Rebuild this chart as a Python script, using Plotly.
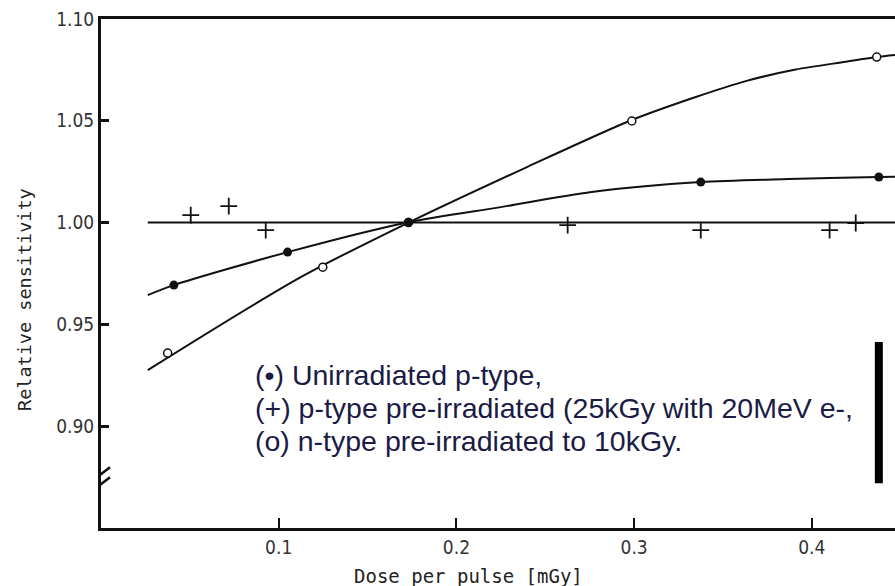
import plotly.graph_objects as go

# Measured points: relative sensitivity against dose per pulse (mGy)
unirr_x = [0.041, 0.105, 0.173, 0.3375, 0.4377]
unirr_y = [0.9693, 0.9855, 1.0002, 1.0199, 1.0224]

p_pre_x = [0.0505, 0.0719, 0.0927, 0.2626, 0.3375, 0.410, 0.4247]
p_pre_y = [1.0037, 1.0081, 0.9963, 0.9988, 0.9963, 0.9963, 0.9998]

n_pre_x = [0.0375, 0.1248, 0.173, 0.2987, 0.4365]
n_pre_y = [0.9359, 0.9781, 1.000, 1.0499, 1.0813]

# Fitted curves drawn through each data set
fit_unirr_x = [0.0263, 0.041, 0.105, 0.173, 0.225, 0.276, 0.3375, 0.387, 0.4377, 0.4468]
fit_unirr_y = [0.9644, 0.9693, 0.9855, 1.0002, 1.0076, 1.0150, 1.0199, 1.0214, 1.0224, 1.0225]

fit_p_pre_x = [0.0263, 0.4468]
fit_p_pre_y = [1.000, 1.000]

fit_n_pre_x = [0.0263, 0.1124, 0.173, 0.2385, 0.2987, 0.3347, 0.3628, 0.3909, 0.4191, 0.4365, 0.4468]
fit_n_pre_y = [0.9275, 0.9732, 1.000, 1.0268, 1.0504, 1.0617, 1.0695, 1.0752, 1.0790, 1.0813, 1.0823]

x_ticks = [0.1, 0.2, 0.3, 0.4]
x_tick_text = ["0.1", "0.2", "0.3", "0.4"]
y_ticks = [0.90, 0.95, 1.00, 1.05, 1.10]
y_tick_text = ["0.90", "0.95", "1.00", "1.05", "1.10"]

key_lines = [
    "(\u2022) Unirradiated p-type,",
    "(+) p-type pre-irradiated (25kGy with 20MeV e-,",
    "(o) n-type pre-irradiated to 10kGy.",
]

TICK_FONT = "DejaVu Sans Condensed, Liberation Sans Narrow, sans-serif"
TITLE_FONT = "DejaVu Sans Mono, Liberation Mono, monospace"
INK = "#111111"

fig = go.Figure()

for fx, fy in [(fit_unirr_x, fit_unirr_y), (fit_p_pre_x, fit_p_pre_y), (fit_n_pre_x, fit_n_pre_y)]:
    fig.add_trace(go.Scatter(
        x=fx, y=fy, mode="lines",
        line=dict(color=INK, width=2, shape="spline", smoothing=0.8),
        hoverinfo="skip", showlegend=False,
    ))

fig.add_trace(go.Scatter(
    x=n_pre_x, y=n_pre_y, mode="markers", name="n-type pre-irradiated",
    marker=dict(symbol="circle", size=8, color="white", line=dict(color=INK, width=1.5)),
    showlegend=False,
))
fig.add_trace(go.Scatter(
    x=p_pre_x, y=p_pre_y, mode="markers", name="p-type pre-irradiated",
    marker=dict(symbol="cross-thin-open", size=12, color=INK, line=dict(color=INK, width=1.8)),
    showlegend=False,
))
fig.add_trace(go.Scatter(
    x=unirr_x, y=unirr_y, mode="markers", name="Unirradiated p-type",
    marker=dict(symbol="circle", size=9, color=INK),
    showlegend=False,
))

L, R, T, B = 101, 0, 19, 58
W, H = 895, 586
pw, ph = W - L - R, H - T - B


def px_to_paper(px, py):
    return (px - L) / pw, (H - B - py) / ph


annotations = []
for i, line in enumerate(key_lines):
    ax_, ay_ = px_to_paper(253, 375 + 33 * i)
    annotations.append(dict(
        x=ax_, y=ay_, xref="paper", yref="paper", xanchor="left", yanchor="middle",
        text=line, showarrow=False,
        font=dict(family="Liberation Sans, Arial, sans-serif", size=28.5, color="#1b1b45"),
    ))

tx, ty = px_to_paper(468, 576)
annotations.append(dict(
    x=tx, y=ty, xref="paper", yref="paper", xanchor="center", yanchor="middle",
    text="Dose per pulse [mGy]", showarrow=False,
    font=dict(family=TITLE_FONT, size=19, color="#222"),
))
yx, yy = px_to_paper(25, 300)
annotations.append(dict(
    x=yx, y=yy, xref="paper", yref="paper", xanchor="center", yanchor="middle",
    text="Relative sensitivity", textangle=-90, showarrow=False,
    font=dict(family=TITLE_FONT, size=18.5, color="#222"),
))

shapes = [
    # marker bar at the right of the key
    dict(type="line", xref="x", yref="y", x0=0.4377, x1=0.4377, y0=0.872, y1=0.9413,
         line=dict(color="black", width=8)),
    # axis break on the y axis
    dict(type="line", xref="x", yref="y", xsizemode="pixel", ysizemode="pixel",
         xanchor=0, yanchor=0.873, x0=-9, x1=9, y0=0, y1=14,
         line=dict(color=INK, width=2.5)),
    dict(type="line", xref="x", yref="y", xsizemode="pixel", ysizemode="pixel",
         xanchor=0, yanchor=0.873, x0=-9, x1=9, y0=-10, y1=4,
         line=dict(color=INK, width=2.5)),
]

fig.update_layout(
    width=W, height=H,
    margin=dict(l=L, r=R, t=T, b=B),
    paper_bgcolor="white", plot_bgcolor="white",
    annotations=annotations, shapes=shapes,
    showlegend=False,
)
fig.update_xaxes(
    range=[0, 0.4468], tickvals=x_ticks, ticktext=x_tick_text,
    ticks="inside", ticklen=10, tickwidth=2, tickcolor=INK,
    showline=True, linewidth=3, linecolor=INK, mirror=True,
    showgrid=False, zeroline=False,
    tickfont=dict(family=TICK_FONT, size=19, color="#333"),
)
fig.update_yaxes(
    range=[0.85, 1.10], tickvals=y_ticks, ticktext=y_tick_text,
    ticks="inside", ticklen=8, tickwidth=3, tickcolor=INK,
    showline=True, linewidth=3, linecolor=INK,
    showgrid=False, zeroline=False,
    tickfont=dict(family=TICK_FONT, size=19, color="#333"),
)

fig.write_html("out.html")
